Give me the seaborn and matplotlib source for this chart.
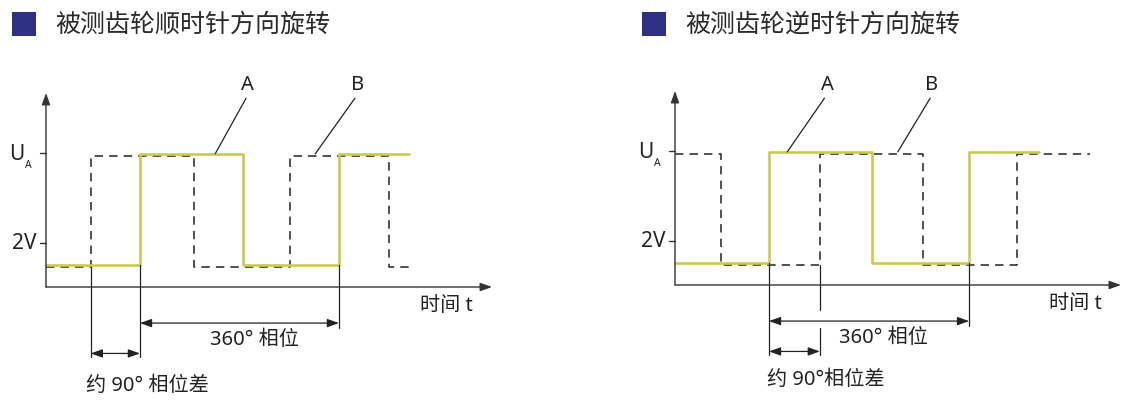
import pandas as pd
import seaborn as sns
import matplotlib.pyplot as plt
from matplotlib.patches import Rectangle

# signal levels (volts) and y ticks
a_low, a_high = 1.0, 6.05
b_low, b_high = 0.92, 5.95
tick_values = [2, 6.1]

titles = ['被测齿轮顺时针方向旋转', '被测齿轮逆时针方向旋转']
phase90_labels = ['约 90° 相位差', '约 90°相位差']
phase360_label = '360° 相位'
time_label = '时间 t'

# edge times in degrees, clockwise
cw_a_t = [0, 170, 356, 530, 657]
cw_a_v = [a_low, a_high, a_low, a_high, a_high]
cw_b_t = [0, 81, 268, 441, 620, 660]
cw_b_v = [b_low, b_high, b_low, b_high, b_low, b_low]
# counter clockwise
ccw_a_t = [0, 170, 356, 532, 658]
ccw_a_v = [a_low, a_high, a_low, a_high, a_high]
ccw_b_t = [0, 83, 262, 449, 619, 751]
ccw_b_v = [b_high, b_low, b_high, b_low, b_high, b_high]

sns.set_theme(style='white')
plt.rcParams['font.family'] = ['Noto Sans', 'Noto Sans CJK SC', 'DejaVu Sans']

W, H = 1137, 415
S = 199 / 360   # px per degree
V = 22          # px per volt
yellow = '#c9cb4f'
ink = '#222222'
navy = '#2e3084'

fig = plt.figure(figsize=(W / 100, H / 100), dpi=100)


def make_panel(ox, oy):
    left, right = ox - 46, ox + 470
    top, bottom = oy - 220, oy + 125
    ax = fig.add_axes([left / W, 1 - bottom / H, (right - left) / W, (bottom - top) / H])
    return ax


def draw(ax, a_t, a_v, b_t, b_v, b_edge, lbl, gap=False):
    da = pd.DataFrame({'t': a_t, 'v': a_v})
    db = pd.DataFrame({'t': b_t, 'v': b_v})
    sns.lineplot(data=db, x='t', y='v', ax=ax, estimator=None, sort=False, errorbar=None,
                 drawstyle='steps-post', color=ink, lw=1.1, linestyle=(0, (5.5, 4)))
    sns.lineplot(data=da, x='t', y='v', ax=ax, estimator=None, sort=False, errorbar=None,
                 drawstyle='steps-post', color=yellow, lw=1.9)
    ax.set_xlim(-46 / S, 470 / S)
    ax.set_ylim(-125 / V, 220 / V)
    ax.axis('off')

    # axes with arrows
    head = dict(arrowstyle='-|>,head_length=0.7,head_width=0.25', mutation_scale=10,
                lw=1.0, color='#333333', shrinkA=0, shrinkB=0)
    ax.annotate('', xy=(0, 194 / V), xytext=(0, 0), arrowprops=head)
    ax.annotate('', xy=(446 / S, 0), xytext=(0, 0), arrowprops=head)
    for tv in tick_values:
        ax.plot([-6 / S, 0], [tv, tv], color='#333333', lw=1.0)
    ax.text(-18, tick_values[0], '2V', ha='right', va='center', fontsize=15, color=ink)
    ax.text(-40, tick_values[1] - 0.1, 'U', ha='right', va='center', fontsize=15, color=ink)
    ax.text(-38, tick_values[1] - 0.6, 'A', ha='left', va='center', fontsize=7.5, color=ink)
    ax.text(772, -0.88, time_label, ha='right', va='center', fontsize=14.5, color=ink)

    # A / B callouts
    for name, (tx, ty, px, py) in lbl.items():
        ax.text(tx, ty, name, ha='center', va='center', fontsize=14.5, color=ink)
        ax.plot([tx + (px - tx) * 0.12 + 4, px], [ty - 0.6, py], color=ink, lw=0.9)

    # phase dimension lines
    t1, t2 = a_t[1], a_t[3]
    if gap:
        ax.plot([b_edge, b_edge], [b_low, -1.14], color=ink, lw=0.9)
        ax.plot([b_edge, b_edge], [-1.95, -3.18], color=ink, lw=0.9)
    else:
        ax.plot([b_edge, b_edge], [b_low, -3.18], color=ink, lw=0.9)
    ax.plot([t1, t1], [a_low, -3.18], color=ink, lw=0.9)
    ax.plot([t2, t2], [a_low, -1.85], color=ink, lw=0.9)
    arrow = dict(arrowstyle='<|-|>,head_length=0.7,head_width=0.25', mutation_scale=10,
                 lw=0.9, color=ink, shrinkA=0, shrinkB=0)
    ax.annotate('', xy=(t1, -1.64), xytext=(t2, -1.64), arrowprops=arrow)
    ax.annotate('', xy=(b_edge, -3.02), xytext=(t1, -3.02), arrowprops=arrow)
    ax.text(377, -2.41, phase360_label, ha='center', va='center', fontsize=14.5, color=ink)
    return ax


ax1 = make_panel(46, 287)
draw(ax1, cw_a_t, cw_a_v, cw_b_t, cw_b_v, cw_b_t[1],
     {'A': (365, 9.18, 306, a_high), 'B': (564, 9.18, 487, b_high + 0.1)})
ax1.text(184, -4.5, phase90_labels[0], ha='center', va='center', fontsize=14.5, color=ink)

ax2 = make_panel(675, 285)
draw(ax2, ccw_a_t, ccw_a_v, ccw_b_t, ccw_b_v, ccw_b_t[2],
     {'A': (275, 9.09, 203, a_high), 'B': (465, 9.09, 403, b_high + 0.1)}, gap=True)
ax2.text(273, -4.32, phase90_labels[1], ha='center', va='center', fontsize=14.5, color=ink)

# titles with square markers
for sx, tx, title in [(12, 55, titles[0]), (642, 685, titles[1])]:
    fig.add_artist(Rectangle((sx / W, 1 - 36 / H), 24 / W, 24 / H, transform=fig.transFigure,
                             color=navy, lw=0))
    fig.text(tx / W, 1 - 25 / H, title, ha='left', va='center', fontsize=18, color='#2a2a2a')

fig.savefig('out.png', dpi=100)
